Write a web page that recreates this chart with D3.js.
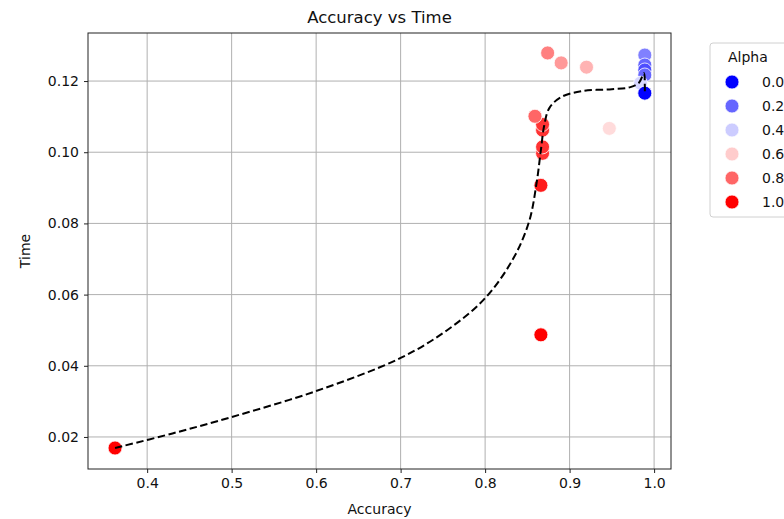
<!DOCTYPE html>
<html>
<head>
<meta charset="utf-8">
<script src="https://cdn.jsdelivr.net/npm/d3@7"></script>
<style>
  html, body { margin: 0; padding: 0; background: #fff; }
  svg { display: block; font-family: "DejaVu Sans", sans-serif; }
</style>
</head>
<body>
<svg id="chart" width="784" height="519"></svg>
<script>
// Measured runs: accuracy, time and the alpha setting used for each
const accuracy = [0.362, 0.866, 0.866, 0.868, 0.868, 0.868, 0.868, 0.859, 0.874, 0.890, 0.920, 0.947, 0.989, 0.989, 0.989, 0.989, 0.984, 0.989];
const time     = [0.0169, 0.0487, 0.0907, 0.0997, 0.1015, 0.1062, 0.1078, 0.1101, 0.1279, 0.1251, 0.1239, 0.1067, 0.1273, 0.1245, 0.1231, 0.1217, 0.1194, 0.1166];
const alpha    = [1.0, 1.0, 0.95, 0.9, 0.9, 0.9, 0.9, 0.8, 0.75, 0.7, 0.65, 0.57, 0.25, 0.2, 0.15, 0.2, 0.42, 0.0];

// Smoothed trend through the runs
const trendAccuracy = [0.362, 0.43, 0.5, 0.6, 0.7, 0.755, 0.8, 0.833, 0.852, 0.861, 0.866, 0.870, 0.876, 0.890, 0.915, 0.950, 0.972, 0.982, 0.988, 0.989, 0.989];
const trendTime     = [0.0169, 0.0210, 0.0256, 0.0329, 0.0422, 0.0500, 0.0590, 0.0700, 0.0805, 0.0915, 0.1006, 0.1076, 0.1124, 0.1155, 0.1172, 0.1177, 0.1183, 0.1195, 0.1222, 0.1190, 0.1162];

// Axis ticks and legend entries
const xTicks = [0.4, 0.5, 0.6, 0.7, 0.8, 0.9, 1.0];
const yTicks = [0.02, 0.04, 0.06, 0.08, 0.10, 0.12];
const legendAlpha = [0.0, 0.2, 0.4, 0.6, 0.8, 1.0];

const svg = d3.select("#chart");
const plot = { left: 88, right: 671, top: 33, bottom: 469 };

const x = d3.scaleLinear().domain([0.330, 1.020]).range([plot.left, plot.right]);
const y = d3.scaleLinear().domain([0.011, 0.1335]).range([plot.bottom, plot.top]);
const color = d3.scaleLinear().domain([0, 0.5, 1]).range(["#0000ff", "#ffffff", "#ff0000"]);

// Grid
const grid = svg.append("g");
grid.selectAll("line.vx").data(xTicks).join("line")
  .attr("x1", d => x(d)).attr("x2", d => x(d))
  .attr("y1", plot.top).attr("y2", plot.bottom)
  .attr("stroke", "#b0b0b0").attr("stroke-width", 1);
grid.selectAll("line.hy").data(yTicks).join("line")
  .attr("y1", d => y(d)).attr("y2", d => y(d))
  .attr("x1", plot.left).attr("x2", plot.right)
  .attr("stroke", "#b0b0b0").attr("stroke-width", 1);

// Axes
const xAxis = svg.append("g")
  .attr("transform", `translate(0,${plot.bottom})`)
  .call(d3.axisBottom(x).tickValues(xTicks).tickFormat(d3.format(".1f")).tickSizeOuter(0).tickSize(4).tickPadding(5));
const yAxis = svg.append("g")
  .attr("transform", `translate(${plot.left},0)`)
  .call(d3.axisLeft(y).tickValues(yTicks).tickFormat(d3.format(".2f")).tickSizeOuter(0).tickSize(4).tickPadding(5));
[xAxis, yAxis].forEach(a => {
  a.select(".domain").remove();
  a.selectAll("text").attr("font-size", 14).attr("fill", "#111").attr("font-family", "DejaVu Sans, sans-serif");
  a.selectAll("line").attr("stroke", "#222");
});

// Points
const pts = accuracy.map((a, i) => ({ a, t: time[i], h: alpha[i] }));
svg.append("g").selectAll("circle").data(pts).join("circle")
  .attr("cx", d => x(d.a)).attr("cy", d => y(d.t)).attr("r", 7)
  .attr("fill", d => color(d.h))
  .attr("stroke", "#fff").attr("stroke-width", 0.8);

// Trend line
const trend = trendAccuracy.map((a, i) => [a, trendTime[i]]);
svg.append("path")
  .datum(trend)
  .attr("d", d3.line().x(d => x(d[0])).y(d => y(d[1])).curve(d3.curveCatmullRom.alpha(0.5)))
  .attr("fill", "none").attr("stroke", "#000").attr("stroke-width", 2)
  .attr("stroke-dasharray", "7.5,3.5");

// Frame
svg.append("rect")
  .attr("x", plot.left).attr("y", plot.top)
  .attr("width", plot.right - plot.left).attr("height", plot.bottom - plot.top)
  .attr("fill", "none").attr("stroke", "#222").attr("stroke-width", 1);

// Titles
svg.append("text").attr("x", (plot.left + plot.right) / 2).attr("y", 23)
  .attr("text-anchor", "middle").attr("font-size", 16.5).attr("fill", "#111")
  .text("Accuracy vs Time");
svg.append("text").attr("x", (plot.left + plot.right) / 2).attr("y", 514)
  .attr("text-anchor", "middle").attr("font-size", 14).attr("fill", "#111")
  .text("Accuracy");
svg.append("text").attr("transform", `translate(30,${(plot.top + plot.bottom) / 2}) rotate(-90)`)
  .attr("text-anchor", "middle").attr("font-size", 14).attr("fill", "#111")
  .text("Time");

// Legend
const legend = svg.append("g");
legend.append("rect")
  .attr("x", 710).attr("y", 43).attr("width", 90).attr("height", 174)
  .attr("rx", 3).attr("fill", "#fff").attr("stroke", "#d0d0d0").attr("stroke-width", 1);
legend.append("text").attr("x", 728).attr("y", 62)
  .attr("font-size", 14).attr("fill", "#111").text("Alpha");
const rows = legend.selectAll("g.row").data(legendAlpha).join("g")
  .attr("transform", (d, i) => `translate(0,${82 + i * 24})`);
rows.append("circle").attr("cx", 732).attr("cy", 0).attr("r", 7)
  .attr("fill", d => color(d)).attr("stroke", "#fff").attr("stroke-width", 0.8);
rows.append("text").attr("x", 762).attr("y", 5)
  .attr("font-size", 14).attr("fill", "#111").text(d => d.toFixed(1));
</script>
</body>
</html>
